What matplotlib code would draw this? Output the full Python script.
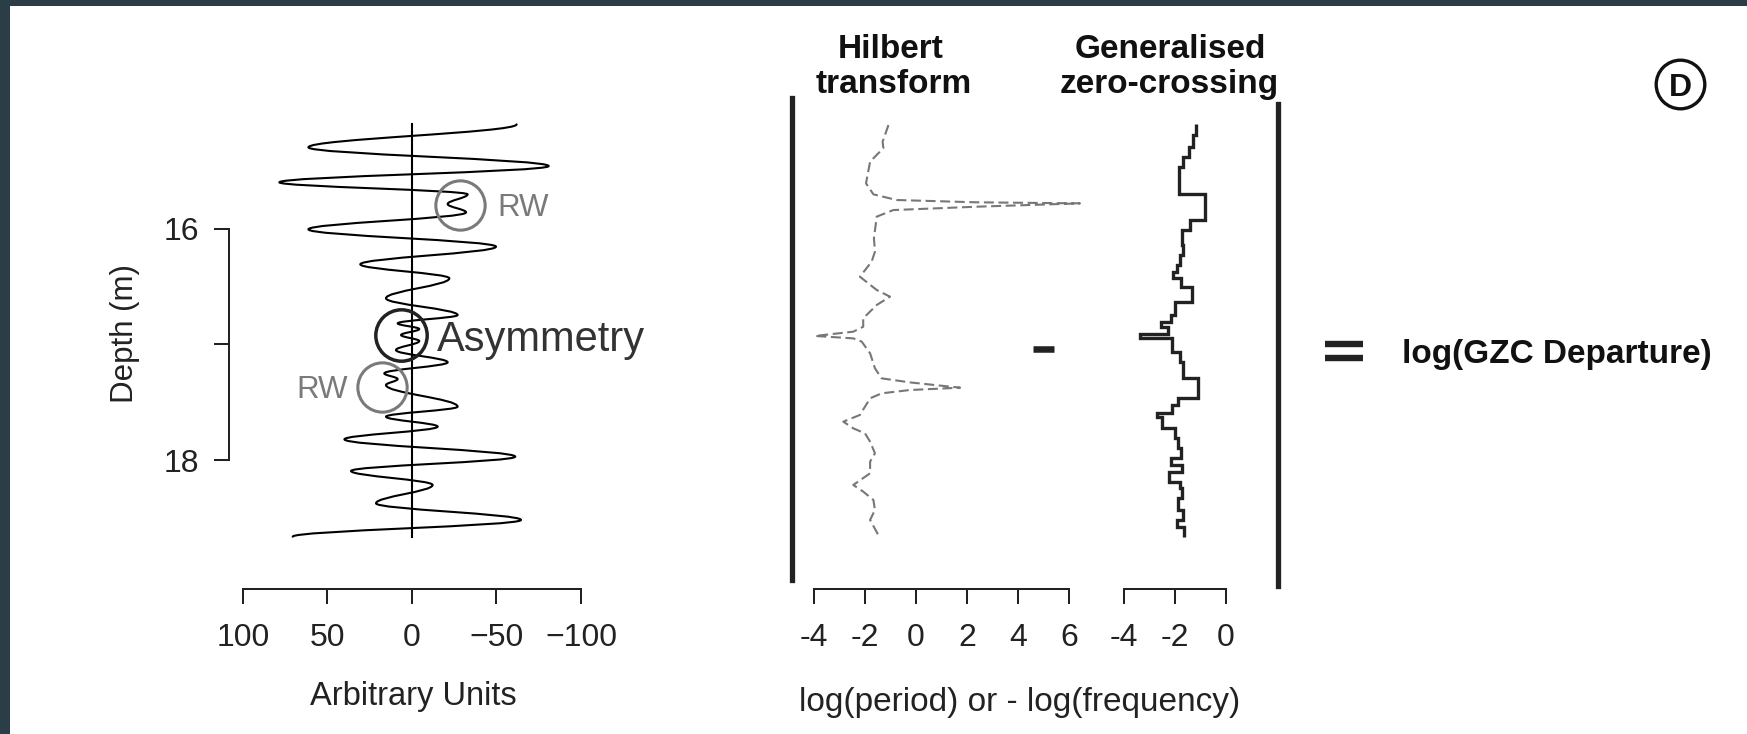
import matplotlib
matplotlib.use('Agg')
import matplotlib.pyplot as plt
from matplotlib.path import Path
from matplotlib.patches import PathPatch, Rectangle
from matplotlib.lines import Line2D

# ---------------- data ----------------
# Left panel: signal extrema (depth in m, value in arbitrary units)
signal_depth = [15.094, 15.293, 15.455, 15.596, 15.700, 15.784, 15.856, 16.003,
                16.153, 16.306, 16.427, 16.600, 16.745, 16.817, 16.866, 16.918,
                16.970, 17.048, 17.154, 17.250, 17.299, 17.351, 17.538, 17.625,
                17.711, 17.821, 17.971, 18.095, 18.216, 18.375, 18.519, 18.664]
signal_value = [-61.9, 61.3, -80.9, 78.5, -32.9, -21.1, -32.0, 61.3,
                -49.7, 30.6, -22.1, 15.4, -27.0, 8.5, -4.3, 6.5,
                -4.3, 9.5, -21.1, 16.4, 8.5, 15.4, -27.0, 15.4,
                -15.2, 40.0, -61.1, 36.1, -12.2, 21.3, -64.5, 70.6]

# Annotations on the left panel
annot_labels = ['RW', 'Asymmetry', 'RW']
annot_depth = [15.792, 16.918, 17.365]
annot_value = [-28.4, 6.5, 17.9]

# Hilbert transform (dashed)
hilbert_depth = [15.100, 15.244, 15.300, 15.417, 15.605, 15.700, 15.749, 15.769,
                 15.778, 15.807, 15.836, 15.893, 16.081, 16.196, 16.283, 16.413,
                 16.528, 16.586, 16.658, 16.773, 16.846, 16.889, 16.926, 16.947,
                 16.975, 17.076, 17.206, 17.293, 17.328, 17.374, 17.394, 17.423,
                 17.466, 17.610, 17.668, 17.726, 17.769, 17.841, 17.942, 18.014,
                 18.115, 18.216, 18.274, 18.346, 18.433, 18.519, 18.649]
hilbert_value = [-1.08, -1.31, -1.28, -1.80, -1.96, -1.67, -0.76, 2.38,
                 6.43, 2.38, -0.89, -1.54, -1.65, -1.61, -1.74, -2.20,
                 -1.54, -1.02, -1.54, -2.07, -2.07, -2.46, -3.96, -2.46,
                 -2.13, -1.80, -1.61, -1.35, -0.24, 1.73, -0.24, -1.35,
                 -1.80, -2.20, -2.85, -2.46, -2.00, -1.80, -1.61, -1.80,
                 -1.80, -2.46, -2.07, -1.67, -1.61, -1.80, -1.48]

# Generalised zero-crossing (step)
gzc_edges = [15.094, 15.186, 15.287, 15.374, 15.460, 15.700, 15.922, 16.009,
             16.139, 16.225, 16.312, 16.369, 16.427, 16.499, 16.629, 16.745,
             16.802, 16.846, 16.912, 16.947, 17.062, 17.149, 17.293, 17.466,
             17.524, 17.596, 17.625, 17.726, 17.812, 17.899, 17.986, 18.043,
             18.101, 18.188, 18.245, 18.332, 18.433, 18.519, 18.577, 18.664]
gzc_values = [-1.18, -1.28, -1.44, -1.70, -1.86, -0.82, -1.41, -1.74,
              -1.67, -1.80, -1.91, -2.07, -1.76, -1.35, -2.00, -2.17,
              -2.56, -2.26, -3.37, -2.13, -1.80, -1.70, -1.08, -1.87,
              -2.13, -2.72, -2.52, -2.00, -1.87, -1.78, -2.17, -1.74,
              -2.22, -1.80, -1.74, -1.87, -1.67, -1.91, -1.65]

# short black bar on the Hilbert panel
bar_depth = 17.04
bar_range = [4.6, 5.4]

left_xticks = [100, 50, 0, -50, -100]
left_xticklabels = ['100', '50', '0', '\u221250', '\u2212100']
depth_ticks = [16, 17, 18]
depth_ticklabels = ['16', '', '18']
hilbert_ticks = [-4, -2, 0, 2, 4, 6]
hilbert_ticklabels = ['-4', '-2', '0', '2', '4', '6']
gzc_ticks = [-4, -2, 0]
gzc_ticklabels = ['-4', '-2', '0']

# ---------------- layout ----------------
W, H = 1747, 734
plt.rcParams['font.family'] = ['Liberation Sans', 'DejaVu Sans']

fig = plt.figure(figsize=(W / 100, H / 100), dpi=100, facecolor='#2b3d47')
fig.add_artist(Rectangle((10 / W, 0), 1 - 10 / W, 1 - 6 / H, transform=fig.transFigure,
                         facecolor='white', edgecolor='none', zorder=-10))


def axes_px(x0, y0, x1, y1):
    ax = fig.add_axes([x0 / W, 1 - y1 / H, (x1 - x0) / W, (y1 - y0) / H])
    ax.patch.set_visible(False)
    return ax


def fx(x):
    return x / W


def fy(y):
    return 1 - y / H


# depth calibration: 16 m at y=229 px, 18 m at y=460 px
def depth_at(y):
    return 16 + (y - 229) / 115.5


TOP, BOT = 100, 589
TICKLEN = 10.8
TICKW = 1.45
LBL = 23
XPAD = 13.5

# ---- left panel ----
axL = axes_px(229, TOP, 600, BOT)
axL.set_xlim((412 - 229) / 1.69, (412 - 600) / 1.69)
axL.set_ylim(depth_at(BOT), depth_at(TOP))
for s in ['top', 'right']:
    axL.spines[s].set_visible(False)
axL.spines['left'].set_bounds(depth_ticks[0], depth_ticks[-1])
axL.spines['bottom'].set_bounds(left_xticks[-1], left_xticks[0])
for s in ['left', 'bottom']:
    axL.spines[s].set_linewidth(TICKW)
    axL.spines[s].set_color('#222222')
axL.set_xticks(left_xticks)
axL.set_xticklabels(left_xticklabels)
axL.set_yticks(depth_ticks)
axL.set_yticklabels(depth_ticklabels)
axL.tick_params(axis='both', direction='out', length=TICKLEN, width=TICKW,
                colors='#222222', labelsize=LBL)
axL.tick_params(axis='x', pad=XPAD)
axL.tick_params(axis='y', pad=11)

k = 0.3642
verts = [(signal_value[0], signal_depth[0])]
codes = [Path.MOVETO]
for i in range(len(signal_depth) - 1):
    d0, d1 = signal_depth[i], signal_depth[i + 1]
    v0, v1 = signal_value[i], signal_value[i + 1]
    dd = d1 - d0
    verts += [(v0, d0 + k * dd), (v1, d1 - k * dd), (v1, d1)]
    codes += [Path.CURVE4] * 3
axL.add_patch(PathPatch(Path(verts, codes), fill=False, lw=1.5, ec='black',
                        capstyle='round', joinstyle='round'))
axL.plot([0, 0], [signal_depth[0], signal_depth[-1]], color='black', lw=1.5)

annot_colors = ['#7a7a7a', '#222222', '#7a7a7a']
annot_ms = [35.5, 37.0, 35.5]
annot_mew = [2.2, 2.5, 2.2]
for lab, d, v, c, ms, mw in zip(annot_labels, annot_depth, annot_value,
                                annot_colors, annot_ms, annot_mew):
    axL.plot([v], [d], marker='o', ms=ms, mfc='none', mec=c, mew=mw, zorder=5)
fig.text(fx(497), fy(205), annot_labels[0], ha='left', va='center_baseline',
         fontsize=22.5, color='#7a7a7a')
fig.text(fx(437), fy(335), annot_labels[1], ha='left', va='center_baseline',
         fontsize=30, color='#333333')
fig.text(fx(348), fy(387), annot_labels[2], ha='right', va='center_baseline',
         fontsize=22.5, color='#7a7a7a')

fig.text(fx(413), fy(696), 'Arbitrary Units', ha='center', va='center',
         fontsize=23.5, color='#222222')
fig.text(fx(125), fy(334), 'Depth (m)', ha='center', va='center', rotation=90,
         fontsize=22.5, color='#222222')

# ---- Hilbert panel ----
axH = axes_px(800, TOP, 1100, BOT)
axH.set_xlim((800 - 916) / 25.5, (1100 - 916) / 25.5)
axH.set_ylim(depth_at(BOT), depth_at(TOP))
for s in ['top', 'right', 'left']:
    axH.spines[s].set_visible(False)
axH.spines['bottom'].set_bounds(hilbert_ticks[0], hilbert_ticks[-1])
axH.spines['bottom'].set_linewidth(TICKW)
axH.spines['bottom'].set_color('#222222')
axH.set_xticks(hilbert_ticks)
axH.set_xticklabels(hilbert_ticklabels)
axH.set_yticks([])
axH.tick_params(axis='x', direction='out', length=TICKLEN, width=TICKW,
                colors='#222222', labelsize=LBL, pad=XPAD)
axH.plot(hilbert_value, hilbert_depth, color='#777777', lw=1.5,
         linestyle=(0, (4.8, 2.2)), clip_on=False)
axH.plot(bar_range, [bar_depth, bar_depth], color='#222222', lw=4.7,
         solid_capstyle='butt')

# ---- GZC panel ----
axG = axes_px(1105, TOP, 1245, BOT)
axG.set_xlim((1105 - 1226) / 25.5, (1245 - 1226) / 25.5)
axG.set_ylim(depth_at(BOT), depth_at(TOP))
for s in ['top', 'right', 'left']:
    axG.spines[s].set_visible(False)
axG.spines['bottom'].set_bounds(gzc_ticks[0], gzc_ticks[-1])
axG.spines['bottom'].set_linewidth(TICKW)
axG.spines['bottom'].set_color('#222222')
axG.set_xticks(gzc_ticks)
axG.set_xticklabels(gzc_ticklabels)
axG.set_yticks([])
axG.tick_params(axis='x', direction='out', length=TICKLEN, width=TICKW,
                colors='#222222', labelsize=LBL, pad=XPAD)
axG.stairs(gzc_values, gzc_edges, orientation='horizontal', baseline=None,
           color='#222222', lw=2.4)

fig.text(fx(1020), fy(702), 'log(period) or - log(frequency)', ha='center',
         va='center', fontsize=24, color='#222222')

# titles
fig.text(fx(891), fy(46), 'Hilbert', ha='center', va='center_baseline',
         fontsize=24, fontweight='bold', color='#111111')
fig.text(fx(894), fy(81), 'transform', ha='center', va='center_baseline',
         fontsize=24, fontweight='bold', color='#111111')
fig.text(fx(1170), fy(46), 'Generalised', ha='center', va='center_baseline',
         fontsize=24, fontweight='bold', color='#111111')
fig.text(fx(1169), fy(81), 'zero-crossing', ha='center', va='center_baseline',
         fontsize=24, fontweight='bold', color='#111111')

# thick vertical bars
fig.add_artist(Line2D([fx(792), fx(792)], [fy(98), fy(580)], color='#222222',
                      lw=3.8, transform=fig.transFigure))
fig.add_artist(Line2D([fx(1278), fx(1278)], [fy(104), fy(586)], color='#222222',
                      lw=3.8, transform=fig.transFigure))

# equals sign and label
for yy in (344, 358):
    fig.add_artist(Line2D([fx(1325), fx(1363)], [fy(yy), fy(yy)], color='#222222',
                          lw=4.6, transform=fig.transFigure, solid_capstyle='butt'))
fig.text(fx(1402), fy(351), 'log(GZC Departure)', ha='left', va='center_baseline',
         fontsize=24, fontweight='bold', color='#111111')

# panel letter
fig.add_artist(Line2D([fx(1680)], [fy(84)], marker='o', ms=35, mfc='none',
                      mec='#111111', mew=2.4, transform=fig.transFigure))
fig.text(fx(1680), fy(84), 'D', ha='center', va='center_baseline', fontsize=23,
         fontweight='bold', color='#111111')

fig.savefig('out.png', dpi=100, facecolor=fig.get_facecolor())
